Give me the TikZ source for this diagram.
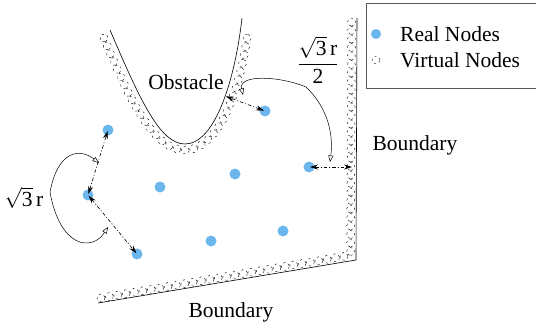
\documentclass[tikz,border=0pt]{standalone}
\usepackage{fontspec}
\setmainfont{Liberation Serif}
\usetikzlibrary{arrows.meta,decorations.markings}
\definecolor{realblue}{RGB}{108,182,238}
\tikzset{
  realnode/.style={circle,fill=realblue,inner sep=0pt,minimum size=11pt},
  vcirc/.style={line width=0.4pt,dash pattern=on 2.2pt off 3.2pt},
  measure/.style={line width=0.6pt,dash pattern=on 3.5pt off 2pt on 1pt off 2pt,{Stealth[length=8pt,width=5pt]}-{Stealth[length=8pt,width=5pt]},shorten <=1pt,shorten >=1pt},
  annot/.style={line width=0.5pt,-{Triangle[open,length=6.5pt,width=5pt]}},
  wall/.style={line width=0.6pt},
  hatch/.style={decorate,decoration={markings,mark=between positions 0 and 1 step 8.5pt with {\draw[vcirc] (0,0) circle[radius=4pt];}}},
  lbl/.style={inner sep=0pt,font=\fontsize{21.5}{25}\selectfont}
}
\begin{document}
\begin{tikzpicture}[x=1pt,y=-1pt]
\useasboundingbox (0,0) rectangle (536,329);
% legend
\draw[line width=0.6pt,gray!70!black] (366,3) rectangle (540,88);
\node[realnode,minimum size=10pt] (lr) at (376,34) {};
\draw[vcirc] (376,60) circle[radius=4pt];
\coordinate (lv) at (376,60);
\node[lbl,anchor=west] (tr) at (400,34) {Real Nodes};
\node[lbl,anchor=west] (tv) at (400,60) {Virtual Nodes};
% boundaries
\draw[wall] (357,18) -- (356,260) -- (98,303);
\path[hatch] (351.5,22) -- (350.5,256);
\path[hatch] (101,298) -- (352,255);
% obstacle
\draw[wall] (110,30) .. controls (140,100) and (160,144) .. (185,144)
  .. controls (215,144) and (235,80) .. (242,18);
\path[hatch] (104,38) .. controls (132,106) and (155,150) .. (185,150)
  .. controls (220,150) and (242,85) .. (248,30);
% labels
\node[lbl] (obs) at (186,82) {Obstacle};
\node[lbl] (b1) at (415,145) {Boundary};
\node[lbl] (b2) at (231,312) {Boundary};
\node[lbl] (s1) at (24,198) {$\sqrt{\mbox{3}}\,\mbox{r}$};
\node[lbl] (s2) at (318,60) {$\displaystyle\frac{\sqrt{\mbox{3}}\,\mbox{r}}{\mbox{2}}$};
% real nodes
\node[realnode] (n1) at (108,130) {};
\node[realnode] (n2) at (88,195) {};
\node[realnode] (n3) at (137,254) {};
\node[realnode] (n4) at (160,187) {};
\node[realnode] (n5) at (235,174) {};
\node[realnode] (n6) at (265,111) {};
\node[realnode] (n7) at (309,167) {};
\node[realnode] (n8) at (211,241) {};
\node[realnode] (n9) at (283,231) {};
% virtual points
\coordinate (vo) at (225,96);
\coordinate (vb) at (353,167);
% measurements
\draw[measure] (n2.center) -- (n1.center);
\draw[measure] (n2.center) -- (n3.center);
\draw[measure] (n6.center) -- (vo);
\draw[measure] (n7.center) -- (vb);
% annotation curves
\coordinate (lc) at (50,192);
\coordinate (lt1) at (99,163);
\coordinate (lt2) at (108,227);
\draw[annot] (lc) .. controls (58,150) and (80,148) .. (lt1);
\draw[annot] (lc) .. controls (60,248) and (92,252) .. (lt2);
\coordinate (rc) at (306,87);
\coordinate (rt1) at (243,95);
\coordinate (rt2) at (330,162);
\draw[annot] (rc) .. controls (280,76) and (238,74) .. (rt1);
\draw[annot] (rc) .. controls (325,105) and (334,130) .. (rt2);
\end{tikzpicture}
\end{document}
